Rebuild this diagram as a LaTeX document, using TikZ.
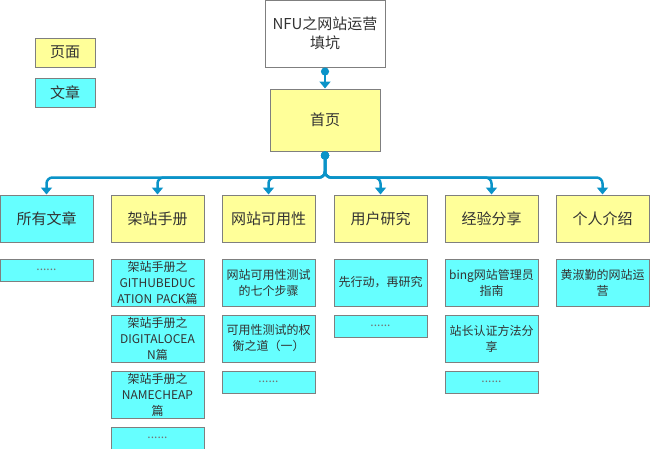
\documentclass[tikz,border=0pt]{standalone}
\usepackage{fontspec}
\setmainfont{Noto Sans CJK SC}
\usetikzlibrary{arrows.meta,positioning}
\definecolor{pagefill}{HTML}{FFFF99}
\definecolor{postfill}{HTML}{66FFFF}
\definecolor{boxline}{HTML}{7F7F7F}
\definecolor{linkblue}{HTML}{0A93C8}
\begin{document}
\begin{tikzpicture}
		[x=1pt,y=-1pt,
		every node/.style={draw=boxline,line width=1pt,inner sep=1pt,align=center,text=black!80},
		page/.style={fill=pagefill,minimum width=93pt,minimum height=47pt,font=\fontsize{15}{19}\selectfont},
		post/.style={fill=postfill,minimum width=93pt,minimum height=47pt,text width=91pt,font=\fontsize{12}{16}\selectfont},
		more/.style={post,minimum height=22pt,text=black!55},
		legend/.style={minimum width=60pt,minimum height=29pt,font=\fontsize{15}{19}\selectfont},
		link/.style={draw=linkblue,line width=2.5pt,rounded corners=6pt,{Circle[length=8pt,width=8pt]}-{Triangle[width=11pt,length=7pt]}},
		node distance=8pt]
		\useasboundingbox (0,0) rectangle (650,448);
		% legend
		\node[legend,fill=pagefill] (legpage) at (65,52.5) {页面};
		\node[legend,fill=postfill] (legpost) at (65,92.5) {文章};
		% root
		\node[fill=white,minimum width=120pt,minimum height=67pt,font=\fontsize{15}{19}\selectfont] (top) at (325,33.5) {NFU之网站运营\\填坑};
		\node[page,minimum width=110pt,minimum height=62pt] (home) at (325,120) {首页};
		\draw[link] (top) -- (home);
		% categories
		\node[page,fill=postfill] (all) at (46.5,218.5) {所有文章};
		\node[page] (build) at (157.5,218.5) {架站手册};
		\node[page] (usab) at (268.5,218.5) {网站可用性};
		\node[page] (user) at (380.5,218.5) {用户研究};
		\node[page] (share) at (491.5,218.5) {经验分享};
		\node[page] (about) at (602.5,218.5) {个人介绍};
		\coordinate (bus) at (325,177.5);
		\foreach \cat in {all,build,usab,user,share,about}
			\draw[link] (home) -- (bus) -| (\cat);
		% posts
		\node[more,below=16pt of all] (all1) {......};
		\node[post,below=16pt of build] (build1) {架站手册之\\GITHUBEDUC\\ATION PACK篇};
		\node[post,below=of build1] (build2) {架站手册之\\DIGITALOCEA\\N篇};
		\node[post,below=of build2] (build3) {架站手册之\\NAMECHEAP\\篇};
		\node[more,below=of build3] (build4) {......};
		\node[post,below=16pt of usab] (usab1) {网站可用性测试\\的七个步骤};
		\node[post,below=of usab1] (usab2) {可用性测试的权\\衡之道（一）};
		\node[more,below=of usab2] (usab3) {......};
		\node[post,below=16pt of user] (user1) {先行动，再研究};
		\node[more,below=of user1] (user2) {......};
		\node[post,below=16pt of share] (share1) {bing网站管理员\\指南};
		\node[post,below=of share1] (share2) {站长认证方法分\\享};
		\node[more,below=of share2] (share3) {......};
		\node[post,below=16pt of about] (about1) {黄淑勤的网站运\\营};
	\end{tikzpicture}
\end{document}
